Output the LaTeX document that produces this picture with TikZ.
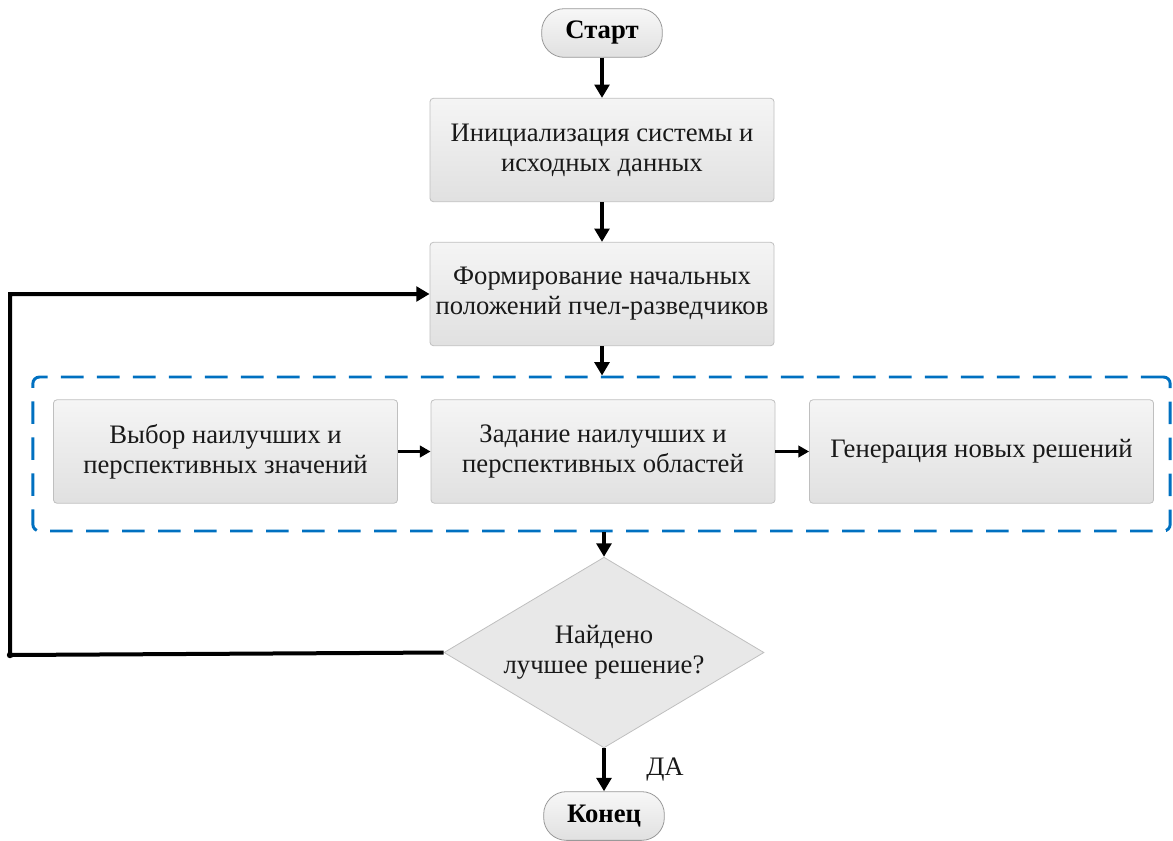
\documentclass[tikz,border=0pt]{standalone}
\usepackage{fontspec}
\setmainfont{Liberation Serif}
\usetikzlibrary{shapes.geometric,arrows.meta}
\definecolor{dblue}{RGB}{0,112,192}
\begin{document}
\begin{tikzpicture}[x=0.75pt,y=-0.75pt,
  txt/.style={font=\fontsize{20}{22.5}\selectfont, text=black!90},
  box/.style={txt, draw=black!25, line width=0.6pt, rounded corners=2.5pt,
    top color=black!4, bottom color=black!12, minimum width=258pt,
    minimum height=77.5pt, align=center, inner sep=0pt},
  term/.style={draw=black!40, line width=0.6pt, rounded corners=17pt,
    top color=black!3, bottom color=black!12, minimum width=90.5pt,
    minimum height=36.5pt, inner sep=0pt, text=black,
    font=\bfseries\fontsize{20}{22}\selectfont},
  dec/.style={txt, diamond, aspect=1.7, draw=black!25, line width=0.6pt,
    fill=black!9, minimum width=240pt, minimum height=143pt,
    inner sep=0pt, align=center},
  arr/.style={-{Triangle[length=10pt,width=11pt]}, line width=3pt},
  sarr/.style={-{Triangle[length=8pt,width=8.5pt]}, line width=2.2pt},
  group/.style={draw=dblue, dash pattern=on 17pt off 10pt, line width=2.2pt,
    rounded corners=5pt, minimum width=853pt, minimum height=115.5pt}
]
\useasboundingbox (0,0) rectangle (1173,840);

\node[term] (start) at (602,33) {Старт};
\node[box] (b1) at (602,150) {Инициализация системы и\\исходных данных};
\node[box] (b2) at (602,294) {Формирование начальных\\положений пчел-разведчиков};
\node[group] (grp) at (601.5,454) {};
\node[box] (b3) at (225.5,451.5) {Выбор наилучших и\\перспективных значений};
\node[box] (b4) at (603,451.5) {Задание наилучших и\\перспективных областей};
\node[box] (b5) at (981.5,451.5) {Генерация новых решений};
\node[dec] (dec) at (604,652.5) {Найдено\\лучшее решение?};
\node[term] (end) at (604,816) {Конец};
\node[txt] (yes) at (665,770) {ДА};

\coordinate (c1) at (10,655);
\coordinate (c2) at (10,294);

\draw[arr] (start.south) -- (b1.north);
\draw[arr] (b1.south) -- (b2.north);
\draw[arr] (b2.south) -- (b2.south |- grp.north);
\draw[sarr] (b3.east) -- (b4.west);
\draw[sarr] (b4.east) -- (b5.west);
\draw[arr] (dec.north |- grp.south) -- (dec.north);
\draw[arr] (dec.south) -- (end.north);
\draw[arr] (dec.west) -- (c1) -- (c2) -- (b2.west);
\fill (c1) circle (2.4pt);
\end{tikzpicture}
\end{document}
